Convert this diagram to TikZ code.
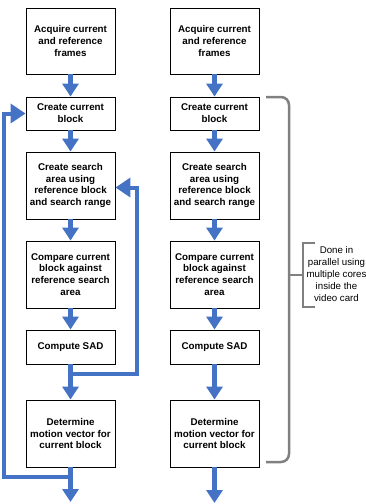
\documentclass[tikz,border=0pt]{standalone}
\usepackage{fontspec}
\setmainfont{Liberation Sans}
\usetikzlibrary{arrows.meta,calc}
\definecolor{flowblue}{RGB}{68,114,196}
\definecolor{brgrey}{RGB}{128,128,128}
\begin{document}
\begin{tikzpicture}[x=1pt,y=-1pt,
  box/.style={draw=black,line width=0.9pt,minimum width=89pt,inner sep=1pt,align=center,
    font=\bfseries\fontsize{9.8}{11.8}\selectfont},
  flow/.style={draw=flowblue,line width=5.5pt,-{Triangle[width=16pt,length=13pt]}},
  looparrow/.style={draw=flowblue,line width=4pt,-{Triangle[width=19pt,length=15pt]}},
  brace/.style={draw=brgrey,line width=2.5pt,rounded corners=8pt},
  note/.style={align=center,font=\fontsize{9.7}{11.9}\selectfont}]
\useasboundingbox (0,0) rectangle (365,504);
% left column
\node[box,minimum height=66pt] (a1) at (70.5,41) {Acquire current\\and reference\\frames};
\node[box,minimum height=33pt] (a2) at (70.5,113.5) {Create current\\block};
\node[box,minimum height=67pt] (a3) at (70.5,185.5) {Create search\\area using\\reference block\\and search range};
\node[box,minimum height=67pt] (a4) at (70.5,274.5) {Compare current\\block against\\reference search\\area};
\node[box,minimum height=34pt] (a5) at (70.5,347) {Compute SAD};
\node[box,minimum height=67pt] (a6) at (70.5,433.5) {Determine\\motion vector for\\current block};
\coordinate (aend) at (70.5,502);
% right column
\node[box,minimum height=66pt] (b1) at (214.5,41) {Acquire current\\and reference\\frames};
\node[box,minimum height=33pt] (b2) at (214.5,113.5) {Create current\\block};
\node[box,minimum height=67pt] (b3) at (214.5,185.5) {Create search\\area using\\reference block\\and search range};
\node[box,minimum height=67pt] (b4) at (214.5,274.5) {Compare current\\block against\\reference search\\area};
\node[box,minimum height=34pt] (b5) at (214.5,347) {Compute SAD};
\node[box,minimum height=67pt] (b6) at (214.5,433.5) {Determine\\motion vector for\\current block};
\coordinate (bend) at (214.5,503);
% flow arrows
\foreach \p/\q in {a1/a2,a2/a3,a3/a4,a4/a5,a5/a6,b1/b2,b2/b3,b3/b4,b4/b5,b5/b6}
  \draw[flow] (\p.south) -- (\q.north);
\draw[flow] (a6.south) -- (aend);
\draw[flow] (b6.south) -- (bend);
% loops
\coordinate (l1) at (70.5,477);
\coordinate (l1c) at (4,477);
\coordinate (l1d) at (4,113.5);
\draw[looparrow] (l1) -- (l1c) -- (l1d) -- (a2.west);
\coordinate (l2) at (70.5,373.5);
\coordinate (l2c) at (137,373.5);
\coordinate (l2d) at (137,187.5);
\draw[looparrow] (l2) -- (l2c) -- (l2d) -- (a3.east |- l2d);
% bracket
\coordinate (br1) at (266,97);
\coordinate (br2) at (289,97);
\coordinate (br3) at (289,462);
\coordinate (br4) at (266,462);
\coordinate (brm) at (289,275);
\coordinate (brt) at (302,275);
\draw[brace] (br1) -- (br2) -- (br3) -- (br4);
\draw[draw=brgrey,line width=2.5pt] (brm) -- (brt);
\coordinate (n1) at (315,243);
\coordinate (n2) at (303,243);
\coordinate (n3) at (303,307);
\coordinate (n4) at (315,307);
\draw[draw=brgrey,line width=2pt] (n1) -- (n2) -- (n3) -- (n4);
\node[note] (note) at (336.5,274) {Done in\\parallel using\\multiple cores\\inside the\\video card};
\end{tikzpicture}
\end{document}
